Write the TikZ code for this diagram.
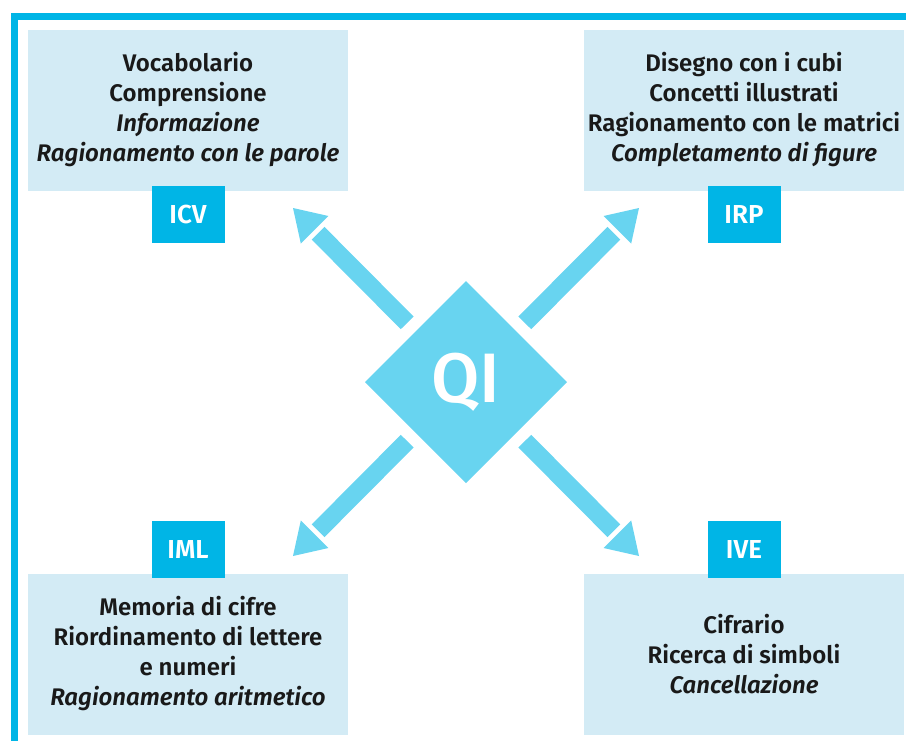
\documentclass[tikz,border=0pt]{standalone}
\usepackage{fontspec}
\setmainfont{Fira Sans}[BoldFont={Fira Sans SemiBold},BoldItalicFont={Fira Sans SemiBold Italic}]
\newfontfamily\qifont{Fira Sans Medium}
\usetikzlibrary{calc,positioning,shapes.geometric}

\definecolor{framecyan}{RGB}{0,181,230}
\definecolor{boxblue}{RGB}{211,235,245}
\definecolor{arrowcyan}{RGB}{104,212,240}

\tikzset{
  subtest/.style={fill=boxblue,minimum width=160pt,minimum height=80.5pt,inner sep=0pt,
    align=center,text=black!90,font=\fontsize{12}{15}\selectfont\bfseries},
  index/.style={fill=framecyan,minimum width=36.5pt,minimum height=28.5pt,inner sep=0pt,
    text=white,font=\fontsize{13}{13}\selectfont\bfseries},
  shaft/.style={arrowcyan,line width=9pt},
  head/.style={fill=arrowcyan}
}

\begin{document}
\begin{tikzpicture}[x=0.5pt,y=-0.5pt]

\useasboundingbox (0,0) rectangle (906,740);
\clip (0,0) rectangle (906,740);

% frame
\draw[framecyan,line width=3.5pt] (14,760) |- (930,16);

% boxes
\node[subtest] (icvbox) at (188,110) {Vocabolario\\Comprensione\\\textit{Informazione}\\\textit{Ragionamento con le parole}};
\node[subtest] (irpbox) at (744,110) {Disegno con i cubi\\Concetti illustrati\\Ragionamento con le matrici\\\textit{Completamento di figure}};
\node[subtest] (imlbox) at (188,654) {Memoria di cifre\\Riordinamento di lettere\\e numeri\\\textit{Ragionamento aritmetico}};
\node[subtest] (ivebox) at (744,654) {Cifrario\\Ricerca di simboli\\\textit{Cancellazione}};

\node[index,below=-2.5pt of icvbox] (icv) {ICV};
\node[index,below=-2.5pt of irpbox] (irp) {IRP};
\node[index,above=-2.5pt of imlbox] (iml) {IML};
\node[index,above=-2.5pt of ivebox] (ive) {IVE};

% centre
\node[diamond,aspect=1,fill=arrowcyan,minimum width=101pt,minimum height=101pt,inner sep=0pt,outer sep=0pt,
  text=white,font=\fontsize{35}{35}\qifont] (qi) at (466,382) {QI};

% arrows
\coordinate (ticv) at ($(qi)+(-173,-174)$);
\coordinate (tirp) at ($(qi)+(173,-174)$);
\coordinate (timl) at ($(qi)+(-173,174)$);
\coordinate (tive) at ($(qi)+(173,174)$);

\coordinate (bicv) at ($(qi)!0.875!(ticv)$);
\coordinate (birp) at ($(qi)!0.875!(tirp)$);
\coordinate (biml) at ($(qi)!0.875!(timl)$);
\coordinate (bive) at ($(qi)!0.875!(tive)$);

\draw[shaft] ($(qi)!0.34!(ticv)$) -- ($(qi)!0.855!(ticv)$);
\draw[shaft] ($(qi)!0.34!(tirp)$) -- ($(qi)!0.855!(tirp)$);
\draw[shaft] ($(qi)!0.34!(timl)$) -- ($(qi)!0.855!(timl)$);
\draw[shaft] ($(qi)!0.34!(tive)$) -- ($(qi)!0.855!(tive)$);

\fill[head] (ticv) -- ($(bicv)!9.75pt!90:(ticv)$) -- ($(bicv)!9.75pt!-90:(ticv)$) -- cycle;
\fill[head] (tirp) -- ($(birp)!9.75pt!90:(tirp)$) -- ($(birp)!9.75pt!-90:(tirp)$) -- cycle;
\fill[head] (timl) -- ($(biml)!9.75pt!90:(timl)$) -- ($(biml)!9.75pt!-90:(timl)$) -- cycle;
\fill[head] (tive) -- ($(bive)!9.75pt!90:(tive)$) -- ($(bive)!9.75pt!-90:(tive)$) -- cycle;

\end{tikzpicture}
\end{document}
